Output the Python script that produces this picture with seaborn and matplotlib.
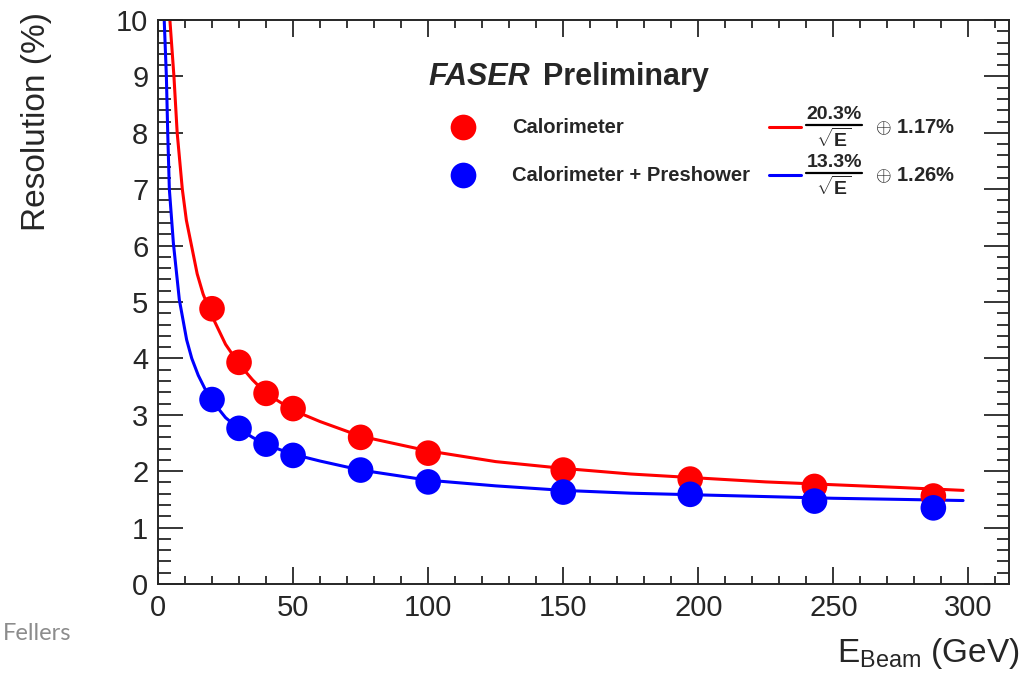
import numpy as np
import pandas as pd
import matplotlib
matplotlib.use("Agg")
import matplotlib.pyplot as plt
from matplotlib.ticker import MultipleLocator
import seaborn as sns

# measured points
energy = [20, 30, 40, 50, 75, 100, 150, 197, 243, 287]
res_calo = [4.88, 3.93, 3.38, 3.11, 2.60, 2.32, 2.02, 1.86, 1.73, 1.56]
res_calo_pre = [3.27, 2.76, 2.48, 2.28, 2.02, 1.81, 1.63, 1.59, 1.47, 1.35]

# fit curves
fit_e_calo = [4.4, 5.9, 7.1, 9.0, 10.5, 12.4, 14.5, 16.7, 20, 25, 30, 35, 40, 50, 60, 75,
              100, 125, 150, 175, 200, 225, 250, 275, 298]
fit_calo = [10.0, 9.0, 8.0, 7.0, 6.45, 6.0, 5.50, 5.14, 4.75, 4.25, 3.90, 3.62, 3.38, 3.08,
            2.88, 2.62, 2.36, 2.17, 2.05, 1.95, 1.88, 1.81, 1.76, 1.71, 1.66]
fit_e_pre = [2.3, 3.1, 3.6, 4.2, 5.7, 7.9, 10.6, 12.5, 14.9, 17.5, 20, 25, 30, 35, 40, 50,
             60, 75, 100, 125, 150, 175, 200, 225, 250, 275, 298]
fit_pre = [10.0, 9.0, 8.0, 7.0, 6.04, 5.04, 4.33, 4.00, 3.70, 3.45, 3.25, 2.95, 2.75, 2.60,
           2.47, 2.30, 2.18, 2.02, 1.84, 1.74, 1.66, 1.61, 1.58, 1.55, 1.52, 1.50, 1.48]

sns.set_style("ticks")
plt.rcParams['font.family'] = ['Liberation Sans', 'DejaVu Sans']
plt.rcParams['mathtext.fontset'] = 'custom'
plt.rcParams['mathtext.rm'] = 'Liberation Sans'
plt.rcParams['mathtext.bf'] = 'Liberation Sans:bold'
plt.rcParams['mathtext.it'] = 'Liberation Sans:italic'

fig = plt.figure(figsize=(10.24, 6.84), dpi=100)
ax = fig.add_axes([158 / 1024, 1 - 584 / 684, 851 / 1024, 564 / 684])

pts = pd.DataFrame({"E": energy * 2,
                    "res": res_calo + res_calo_pre,
                    "det": ["Calorimeter"] * len(energy) + ["Calorimeter + Preshower"] * len(energy)})
fits = pd.DataFrame({"E": fit_e_calo + fit_e_pre,
                     "res": fit_calo + fit_pre,
                     "det": ["Calorimeter"] * len(fit_e_calo) + ["Calorimeter + Preshower"] * len(fit_e_pre)})
pal = {"Calorimeter": "#ff0000", "Calorimeter + Preshower": "#0000ff"}

sns.lineplot(data=fits, x="E", y="res", hue="det", palette=pal, sort=False,
             linewidth=2.2, legend=False, ax=ax, zorder=2)
sns.scatterplot(data=pts, x="E", y="res", hue="det", palette=pal, s=340,
                edgecolor="none", legend=False, ax=ax, zorder=3)

ax.set_xlim(0, 315)
ax.set_ylim(0, 10)
ax.set_xlabel("")
ax.set_ylabel("")
ax.xaxis.set_major_locator(MultipleLocator(50))
ax.xaxis.set_minor_locator(MultipleLocator(10))
ax.yaxis.set_major_locator(MultipleLocator(1))
ax.yaxis.set_minor_locator(MultipleLocator(0.2))
ax.tick_params(which='both', direction='in', top=True, right=True, width=1.1, color='black')
ax.tick_params(axis='x', which='major', length=12, labelsize=21, pad=7)
ax.tick_params(axis='x', which='minor', length=6)
ax.tick_params(axis='y', which='major', length=18, labelsize=21, pad=7)
ax.tick_params(axis='y', which='minor', length=9)
for sp in ax.spines.values():
    sp.set_linewidth(1.4)

fig.text(37 / 1024, 1 - 12 / 684, "Resolution (%)", rotation=90, ha='center', va='top', fontsize=24)
fig.text(1020 / 1024, 1 - 662 / 684, r"E$_{\mathrm{Beam}}$ (GeV)", ha='right', va='baseline', fontsize=24)
fig.text(71 / 1024, 1 - 634 / 684, "Fellers", ha='right', va='center', fontsize=17,
         color='#8c8c8c', family='Lato')

# header and legend
ax.text(0.318, 0.899, "FASER", transform=ax.transAxes, fontsize=22, fontweight='bold',
        style='italic', va='center', ha='left')
ax.text(0.452, 0.899, "Preliminary", transform=ax.transAxes, fontsize=22, fontweight='bold',
        va='center', ha='left')

rows = [(0.810, "#ff0000", "Calorimeter", "20.3", "1.17"),
        (0.725, "#0000ff", "Calorimeter + Preshower", "13.3", "1.26")]
for y, col, name, stoch, const in rows:
    ax.plot([0.358], [y], 'o', color=col, markersize=18.5, markeredgewidth=0,
            transform=ax.transAxes, clip_on=False)
    ax.text(0.416, y, name, transform=ax.transAxes, fontsize=14.5, fontweight='bold',
            va='center', ha='left')
    ax.plot([0.718, 0.755], [y, y], color=col, linewidth=2.2, transform=ax.transAxes)
    # fraction: numerator, bar, sqrt(E)
    ax.text(0.7945, y + 0.007, stoch + "%", transform=ax.transAxes, fontsize=14,
            fontweight='bold', va='bottom', ha='center')
    ax.plot([0.762, 0.827], [y + 0.004, y + 0.004], color='black', linewidth=1.6,
            transform=ax.transAxes)
    ax.text(0.7945, y - 0.001, r"$\mathbf{\sqrt{E}}$", transform=ax.transAxes, fontsize=14,
            va='top', ha='center')
    ax.text(0.8425, y, r"$\oplus$ " + r"$\mathbf{%s\%%}$" % const, transform=ax.transAxes,
            fontsize=14.5, va='center', ha='left')

fig.savefig("out.png", dpi=100)
